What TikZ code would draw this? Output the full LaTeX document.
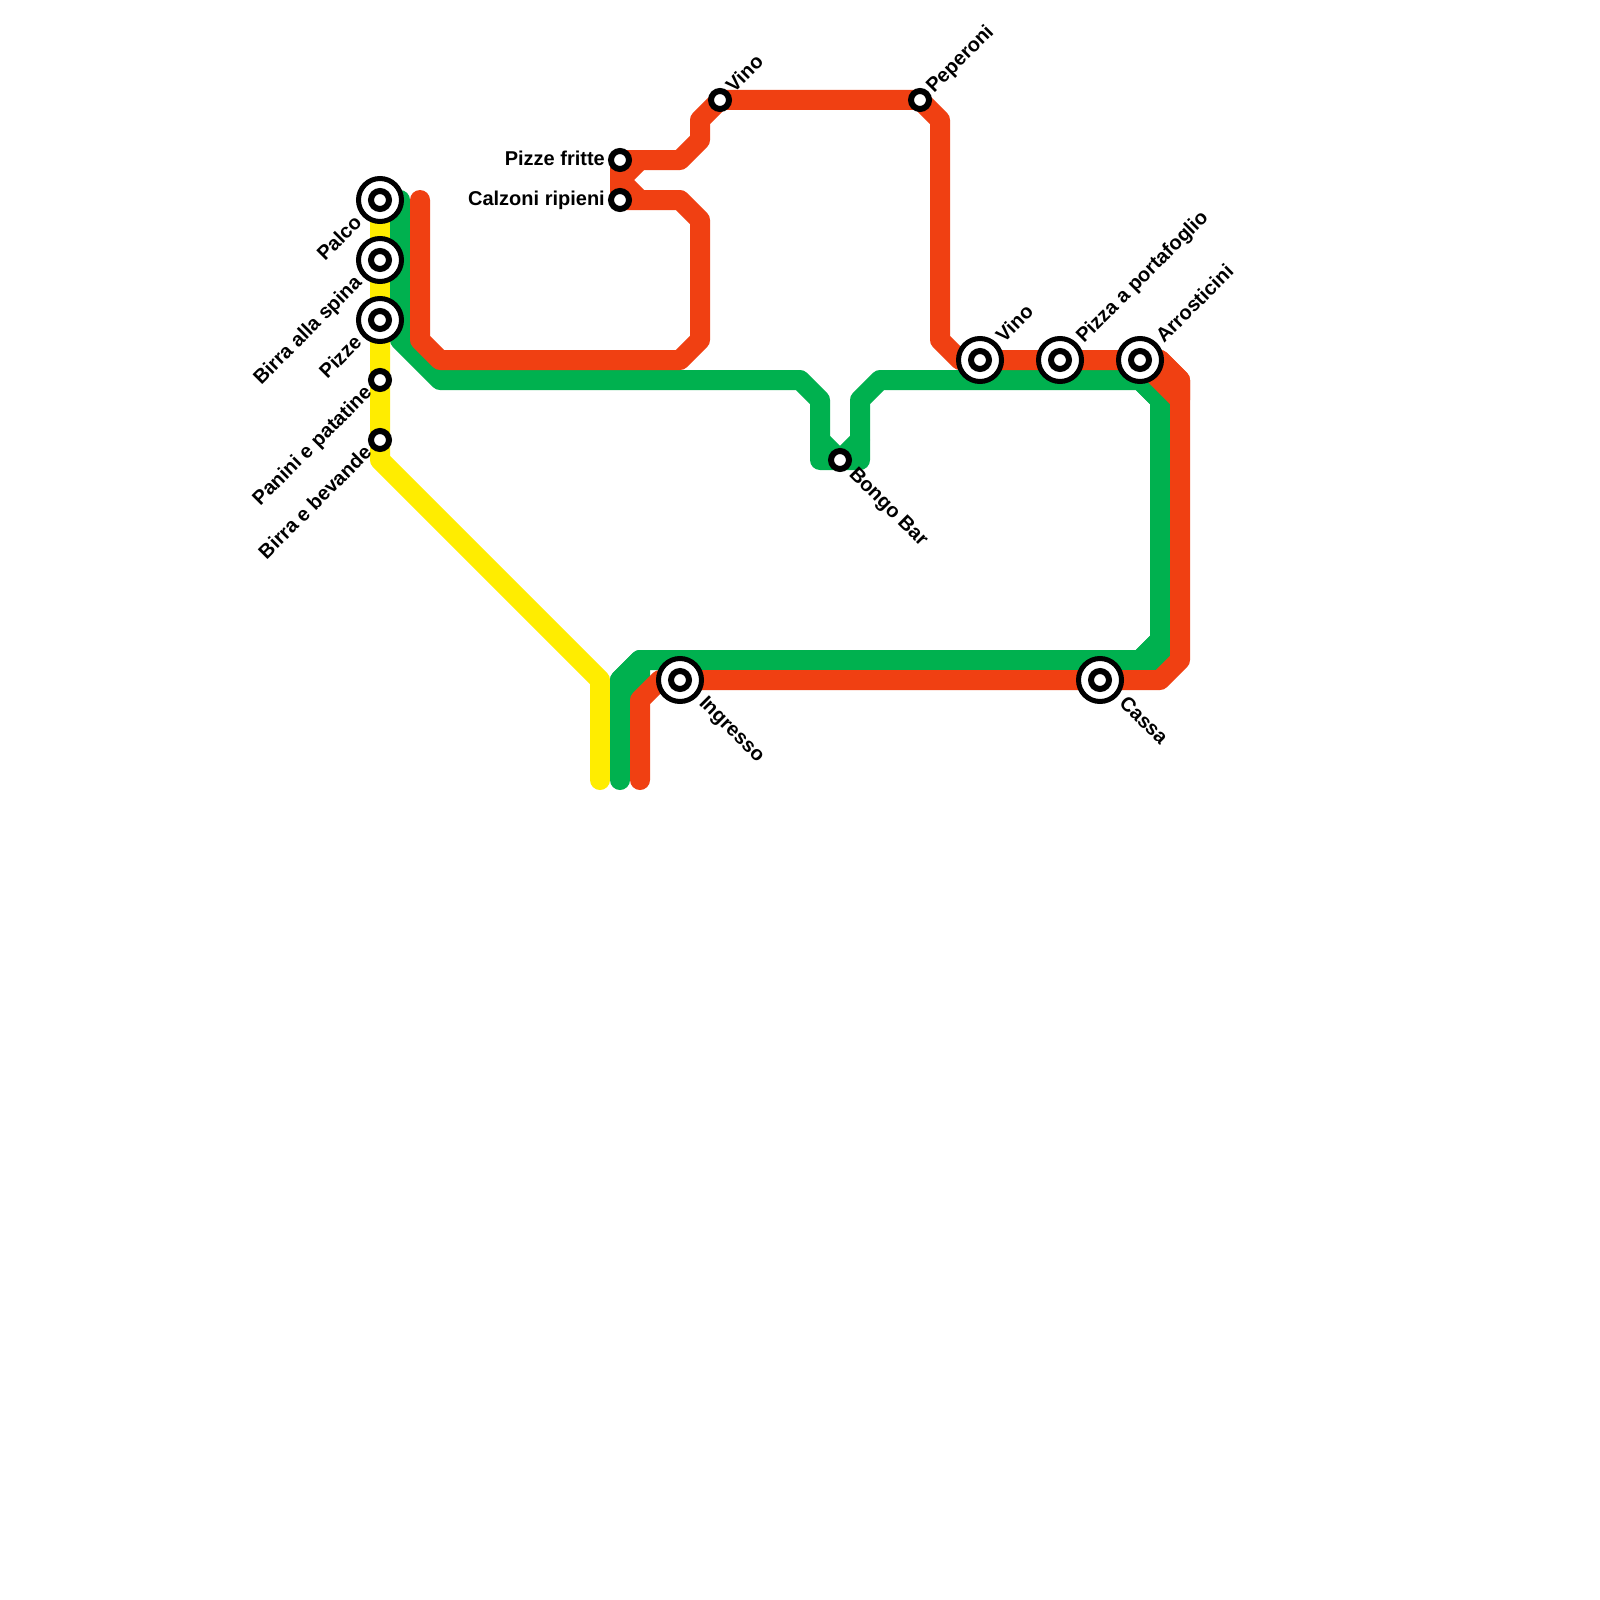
\documentclass[tikz,border=0pt]{standalone}
\usepackage{fontspec}
\setmainfont{Liberation Sans}
\definecolor{lnred}{HTML}{F04012}
\definecolor{lngreen}{HTML}{00B14F}
\definecolor{lnyellow}{HTML}{FFED00}
\pgfdeclarelayer{lines}
\pgfsetlayers{lines,main}
\tikzset{
  metro/.style={line width=20pt,line join=round,line cap=round},
  smallst/.style={circle,draw=black,fill=white,line width=6pt,inner sep=0pt,minimum size=18pt,outer sep=0pt},
  bigst/.style={circle,draw=black,fill=white,line width=5pt,inner sep=0pt,minimum size=43pt,outer sep=0pt,
    path picture={\draw[black,line width=6pt] (path picture bounding box.center) circle (9pt);}},
  lbl/.style={font=\bfseries\fontsize{20}{24}\selectfont,inner sep=0pt,text=black},
  lblne/.style={lbl,rotate=45,anchor=mid west},
  lblse/.style={lbl,rotate=-45,anchor=mid west},
  lblsw/.style={lbl,rotate=45,anchor=mid east},
  lblw/.style={lbl,anchor=mid east},
}
\begin{document}
\begin{tikzpicture}[x=1pt,y=-1pt]
\useasboundingbox (0,0) rectangle (1600,1600);
% stations
\node[bigst] (palco) at (380,200) {};
\node[bigst] (spina) at (380,260) {};
\node[bigst] (pizze) at (380,320) {};
\node[smallst] (panini) at (380,380) {};
\node[smallst] (bevande) at (380,440) {};
\node[smallst] (fritte) at (620,160) {};
\node[smallst] (calzoni) at (620,200) {};
\node[smallst] (vinoa) at (720,100) {};
\node[smallst] (peperoni) at (920,100) {};
\node[bigst] (vinob) at (980,360) {};
\node[bigst] (portaf) at (1060,360) {};
\node[bigst] (arrost) at (1140,360) {};
\node[smallst] (bongo) at (840,460) {};
\node[bigst] (ingresso) at (680,680) {};
\node[bigst] (cassa) at (1100,680) {};
% waypoints
\coordinate (y1) at (380,460);
\coordinate (y2) at (600,680);
\coordinate (y3) at (600,780);
\coordinate (g0) at (400,200);
\coordinate (g1) at (400,340);
\coordinate (g2) at (440,380);
\coordinate (g3) at (800,380);
\coordinate (g4) at (820,400);
\coordinate (g5) at (820,460);
\coordinate (g6) at (860,460);
\coordinate (g7) at (860,400);
\coordinate (g8) at (880,380);
\coordinate (g9) at (1140,380);
\coordinate (g10) at (1160,400);
\coordinate (g11) at (1160,640);
\coordinate (g12) at (1140,660);
\coordinate (g13) at (640,660);
\coordinate (g14) at (620,680);
\coordinate (g15) at (620,780);
\coordinate (n1) at (820,440);
\coordinate (n2) at (860,440);
\coordinate (gc1) at (1160,380);
\coordinate (gc2) at (1160,660);
\coordinate (gc3) at (620,700);
\coordinate (gc4) at (640,690);
\coordinate (r0) at (420,200);
\coordinate (r1) at (420,340);
\coordinate (r2) at (440,360);
\coordinate (r3) at (680,360);
\coordinate (r4) at (700,340);
\coordinate (r5) at (700,220);
\coordinate (r6) at (680,200);
\coordinate (r7) at (680,160);
\coordinate (r8) at (700,140);
\coordinate (r9) at (700,120);
\coordinate (r10) at (940,120);
\coordinate (r11) at (940,340);
\coordinate (r11b) at (960,360);
\coordinate (r12) at (1160,360);
\coordinate (r13) at (1180,380);
\coordinate (r13b) at (1180,400);
\coordinate (r14) at (1180,660);
\coordinate (r15) at (1160,680);
\coordinate (r16) at (660,680);
\coordinate (r17) at (640,700);
\coordinate (r18) at (640,780);
\coordinate (f1) at (620,180);
\coordinate (f2) at (640,160);
\coordinate (f3) at (640,200);
\begin{pgfonlayer}{lines}
\fill[white] (0,0) rectangle (1600,1600);
\draw[metro,lnyellow] (palco.center) -- (spina.center) -- (pizze.center) -- (panini.center) -- (bevande.center) -- (y1) -- (y2) -- (y3);
\draw[metro,lngreen] (g0) -- (g1) -- (g2) -- (g3) -- (g4) -- (g5) -- (g6) -- (g7) -- (g8) -- (g9) -- (g10) -- (g11) -- (g12) -- (g13) -- (g14) -- (g15);
\draw[metro,lngreen] (n1) -- (bongo.center) -- (n2);
\filldraw[metro,lngreen] (g9) -- (gc1) -- (g10) -- cycle;
\filldraw[metro,lngreen] (g11) -- (gc2) -- (g12) -- cycle;
\filldraw[metro,lngreen] (g13) -- (g14) -- (gc3) -- (gc4) -- cycle;
\draw[metro,lnred] (r0) -- (r1) -- (r2) -- (r3) -- (r4) -- (r5) -- (r6) -- (calzoni.center) -- (fritte.center) -- (r7) -- (r8) -- (r9) -- (vinoa.center) -- (peperoni.center) -- (r10) -- (r11) -- (r11b) -- (vinob.center) -- (portaf.center) -- (arrost.center) -- (r12) -- (r13) -- (r14) -- (r15) -- (cassa.center) -- (ingresso.center) -- (r16) -- (r17) -- (r18);
\filldraw[metro,lnred] (arrost.center) -- (r12) -- (r13) -- (r13b) -- cycle;
\draw[metro,lnred] (f2) -- (f1) -- (f3);
\end{pgfonlayer}
% labels
\node[lblsw] at ([shift={(-19,22)}]palco.center) {Palco};
\node[lblsw] at ([shift={(-19,22)}]spina.center) {Birra alla spina};
\node[lblsw] at ([shift={(-19,22)}]pizze.center) {Pizze};
\node[lblsw] at ([shift={(-9,12)}]panini.center) {Panini e patatine};
\node[lblsw] at ([shift={(-9,12)}]bevande.center) {Birra e bevande};
\node[lblw] at ([shift={(-15,3)}]fritte.center) {Pizze fritte};
\node[lblw] at ([shift={(-15,3)}]calzoni.center) {Calzoni ripieni};
\node[lblne] at ([shift={(12,-8)}]vinoa.center) {Vino};
\node[lblne] at ([shift={(12,-8)}]peperoni.center) {Peperoni};
\node[lblne] at ([shift={(22,-18)}]vinob.center) {Vino};
\node[lblne] at ([shift={(22,-18)}]portaf.center) {Pizza a portafoglio};
\node[lblne] at ([shift={(22,-18)}]arrost.center) {Arrosticini};
\node[lblse] at ([shift={(10,13)}]bongo.center) {Bongo Bar};
\node[lblse] at ([shift={(20,22)}]ingresso.center) {Ingresso};
\node[lblse] at ([shift={(20,22)}]cassa.center) {Cassa};
\end{tikzpicture}
\end{document}
